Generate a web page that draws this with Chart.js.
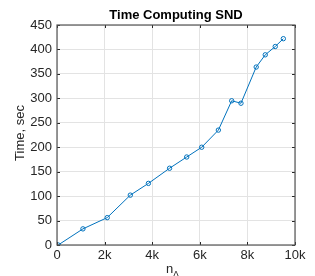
<!DOCTYPE html>
<html>
<head>
<meta charset="utf-8">
<script src="https://cdn.jsdelivr.net/npm/chart.js@4"></script>
<style>
  html, body { margin: 0; padding: 0; background: #fff; }
  #wrap { width: 315px; height: 276px; }
</style>
</head>
<body>
<div id="wrap"><canvas id="sndChart" width="315" height="276"></canvas></div>
<script>
// data
const nLambda = [50, 1090, 2110, 3080, 3840, 4730, 5450, 6080, 6780, 7340, 7730, 8370, 8750, 9170, 9510];
const timeSec = [0, 33, 56, 102, 126, 157, 180, 200, 235, 295, 290, 364, 389, 406, 422];
const xTickLabels = ["0", "2k", "4k", "6k", "8k", "10k"];

const textColor = "#262626";
const blue = "#0072BD";
const font = "'Liberation Sans', Arial, sans-serif";

// title, axis labels, inner ticks and box
const decorPlugin = {
  id: "decor",
  afterDraw(chart) {
    const ctx = chart.ctx;
    const a = chart.chartArea;
    const xs = chart.scales.x, ys = chart.scales.y;
    ctx.save();

    // inward tick marks on all four sides
    ctx.strokeStyle = textColor;
    ctx.lineWidth = 1;
    ctx.beginPath();
    xs.ticks.forEach((t) => {
      const px = Math.round(xs.getPixelForValue(t.value)) + 0.5;
      ctx.moveTo(px, a.bottom); ctx.lineTo(px, a.bottom - 3);
      ctx.moveTo(px, a.top); ctx.lineTo(px, a.top + 3);
    });
    ys.ticks.forEach((t) => {
      const py = Math.round(ys.getPixelForValue(t.value)) + 0.5;
      ctx.moveTo(a.left, py); ctx.lineTo(a.left + 3, py);
      ctx.moveTo(a.right, py); ctx.lineTo(a.right - 3, py);
    });
    ctx.stroke();

    // box
    ctx.strokeStyle = "#555";
    ctx.lineWidth = 1.2;
    ctx.strokeRect(a.left, a.top, a.right - a.left, a.bottom - a.top);

    // title
    ctx.fillStyle = "#000";
    ctx.font = "bold 13px " + font;
    ctx.textAlign = "center";
    ctx.textBaseline = "alphabetic";
    ctx.fillText("Time Computing SND", (a.left + a.right) / 2, 19);

    // y label
    ctx.fillStyle = textColor;
    ctx.font = "13px " + font;
    ctx.save();
    ctx.translate(20, (a.top + a.bottom) / 2 - 2);
    ctx.rotate(-Math.PI / 2);
    ctx.textBaseline = "middle";
    ctx.fillText("Time, sec", 0, 0);
    ctx.restore();

    // x label: n with subscript Lambda
    ctx.textAlign = "left";
    ctx.fillText("n", 166, 273);
    ctx.font = "9px " + font;
    ctx.fillText("Λ", 173, 277);
    ctx.restore();
  },
};

new Chart(document.getElementById("sndChart").getContext("2d"), {
  type: "line",
  data: {
    datasets: [
      {
        data: nLambda.map((x, i) => ({ x: x, y: timeSec[i] })),
        borderColor: blue,
        backgroundColor: "rgba(0,0,0,0)",
        borderWidth: 1,
        pointRadius: 2.2,
        pointBorderWidth: 1,
        pointBorderColor: blue,
        pointBackgroundColor: "rgba(0,0,0,0)",
        tension: 0,
      },
    ],
  },
  options: {
    responsive: false,
    animation: false,
    layout: { padding: { top: 25, right: 20, left: 0, bottom: 0 } },
    plugins: {
      legend: { display: false },
      tooltip: { enabled: false },
      title: { display: false },
    },
    scales: {
      x: {
        type: "linear",
        min: 0,
        max: 10000,
        afterFit(scale) { scale.height = 31; },
        ticks: {
          stepSize: 2000,
          autoSkip: false,
          maxRotation: 0,
          padding: 3,
          color: textColor,
          font: { family: font, size: 13 },
          callback: (v) => xTickLabels[v / 2000],
        },
        grid: { color: "#e3e3e3", drawTicks: false },
        border: { display: false },
      },
      y: {
        min: 0,
        max: 450,
        afterFit(scale) { scale.width = 57; },
        ticks: {
          stepSize: 50,
          padding: 5,
          color: textColor,
          font: { family: font, size: 13 },
        },
        grid: { color: "#e3e3e3", drawTicks: false },
        border: { display: false },
      },
    },
  },
  plugins: [decorPlugin],
});
</script>
</body>
</html>
